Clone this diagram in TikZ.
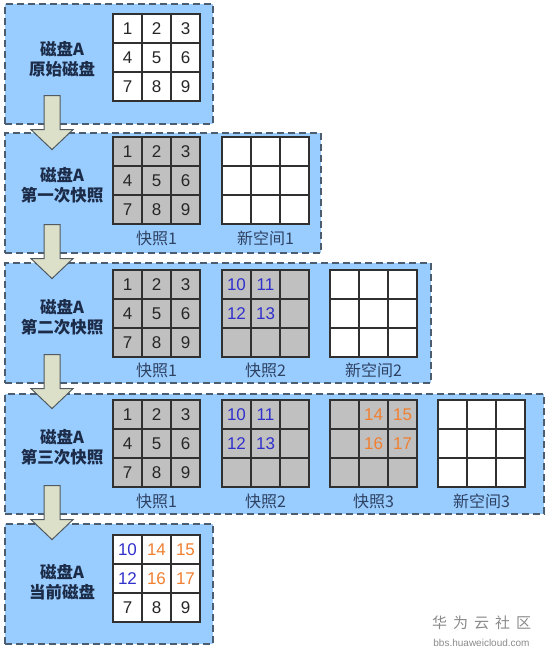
\documentclass[tikz,border=0pt]{standalone}
\usepackage{fontspec}
\setmainfont{Liberation Sans}
\newfontfamily\cjk{Noto Sans CJK SC}
\definecolor{panelfill}{HTML}{99CCFF}
\definecolor{panelborder}{HTML}{4C5D70}
\definecolor{arrowfill}{HTML}{DDE0C8}
\definecolor{arrowborder}{HTML}{505A60}
\definecolor{snapgray}{HTML}{C0C0C0}
\definecolor{gridline}{HTML}{303030}
\definecolor{numblue}{HTML}{3030CC}
\definecolor{numorange}{HTML}{F07F30}
\definecolor{labelnavy}{HTML}{1C2C48}
\definecolor{sublabel}{HTML}{2E4262}
\definecolor{wmgray}{HTML}{8A8A8A}
\newcommand\NB[1]{\textcolor{numblue}{#1}}
\newcommand\NO[1]{\textcolor{numorange}{#1}}
\tikzset{
  panelbox/.style={draw=panelborder, fill=panelfill, dash pattern=on 7pt off 4pt,
    line width=1.6pt, minimum height=120pt, anchor=north west, inner sep=0pt},
  cellbox/.style={draw=gridline, line width=1.1pt, minimum width=29pt, minimum height=29pt,
    inner sep=0pt, text=black!85, font=\fontsize{17}{17}\selectfont},
  disklabel/.style={align=center, text=labelnavy, font=\cjk\bfseries\fontsize{16.5}{20}\selectfont},
  gridlabel/.style={text=sublabel, font=\cjk\fontsize{16}{16}\selectfont},
  blockarrow/.style={draw=arrowborder, fill=arrowfill, line width=1pt, line join=miter},
}
\newcommand\gridcells[5]{%
  \foreach \t [count=\i from 0] in {#5} {%
    \pgfmathtruncatemacro\gc{mod(\i,3)}%
    \pgfmathtruncatemacro\gr{div(\i,3)}%
    \node[cellbox, fill=#4] (#1-\i) at ({#2+14.5+29*\gc},{#3+14.5+29*\gr}) {\t};%
  }%
}
\newcommand\panelarrow[1]{%
  \begin{scope}[shift={(#1.south west)}]
    \draw[blockarrow] (40,-29) -- (56,-29) -- (56,5) -- (69,5) -- (48,25) -- (27,5) -- (40,5) -- cycle;
  \end{scope}%
}
\begin{document}
\begin{tikzpicture}[x=1pt,y=-1pt]
\useasboundingbox (0,0) rectangle (554,656);
% panels
\node[panelbox, minimum width=208pt] (p1) at (4,3) {};
\node[panelbox, minimum width=316pt] (p2) at (4,132) {};
\node[panelbox, minimum width=426pt] (p3) at (4,262) {};
\node[panelbox, minimum width=539pt] (p4) at (4,393) {};
\node[panelbox, minimum width=208pt] (p5) at (4,523) {};
% arrows
\panelarrow{p1}
\panelarrow{p2}
\panelarrow{p3}
\panelarrow{p4}
% panel 1
\node[disklabel] (l1) at (62,59) {磁盘A\\原始磁盘};
\gridcells{g1}{113}{14}{white}{1,2,3,4,5,6,7,8,9}
% panel 2
\node[disklabel] (l2) at (62,185) {磁盘A\\第一次快照};
\gridcells{g2a}{113}{137}{snapgray}{1,2,3,4,5,6,7,8,9}
\gridcells{g2b}{222}{137}{white}{{},{},{},{},{},{},{},{},{}}
\node[gridlabel] (t2a) at (156.5,238) {快照1};
\node[gridlabel] (t2b) at (265.5,238) {新空间1};
% panel 3
\node[disklabel] (l3) at (62,317) {磁盘A\\第二次快照};
\gridcells{g3a}{113}{270}{snapgray}{1,2,3,4,5,6,7,8,9}
\gridcells{g3b}{222}{270}{snapgray}{\NB{10},\NB{11},{},\NB{12},\NB{13},{},{},{},{}}
\gridcells{g3c}{330}{270}{white}{{},{},{},{},{},{},{},{},{}}
\node[gridlabel] (t3a) at (156.5,370) {快照1};
\node[gridlabel] (t3b) at (265.5,370) {快照2};
\node[gridlabel] (t3c) at (373.5,370) {新空间2};
% panel 4
\node[disklabel] (l4) at (62,447) {磁盘A\\第三次快照};
\gridcells{g4a}{113}{400}{snapgray}{1,2,3,4,5,6,7,8,9}
\gridcells{g4b}{222}{400}{snapgray}{\NB{10},\NB{11},{},\NB{12},\NB{13},{},{},{},{}}
\gridcells{g4c}{330}{400}{snapgray}{{},\NO{14},\NO{15},{},\NO{16},\NO{17},{},{},{}}
\gridcells{g4d}{438}{400}{white}{{},{},{},{},{},{},{},{},{}}
\node[gridlabel] (t4a) at (156.5,501) {快照1};
\node[gridlabel] (t4b) at (265.5,501) {快照2};
\node[gridlabel] (t4c) at (373.5,501) {快照3};
\node[gridlabel] (t4d) at (481.5,501) {新空间3};
% panel 5
\node[disklabel] (l5) at (62,582) {磁盘A\\当前磁盘};
\gridcells{g5}{113}{535}{white}{\NB{10},\NO{14},\NO{15},\NB{12},\NO{16},\NO{17},7,8,9}
% watermark
\node[text=wmgray, font=\cjk\fontsize{15}{15}\selectfont] (wm1) at (481.5,623)
  {华\hspace{6pt}为\hspace{6pt}云\hspace{6pt}社\hspace{6pt}区};
\node[text=wmgray, font=\fontsize{10}{10}\selectfont] (wm2) at (481.5,643) {bbs.huaweicloud.com};
\end{tikzpicture}
\end{document}
